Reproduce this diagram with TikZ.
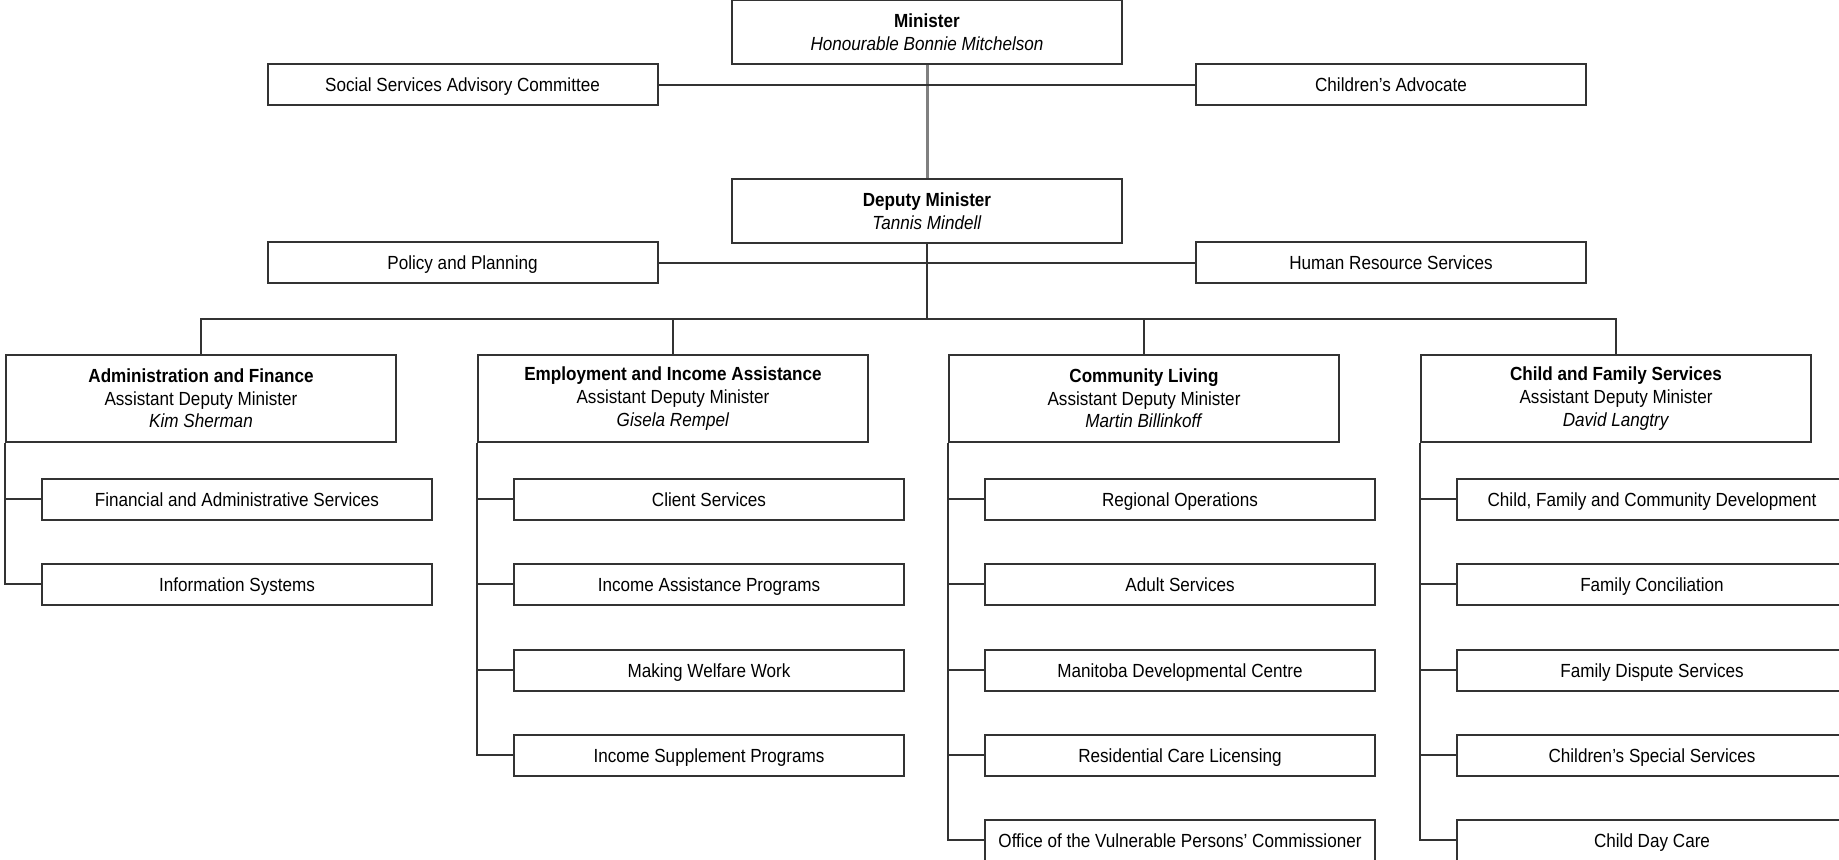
\documentclass[tikz,border=0pt]{standalone}
\usepackage{fontspec}
\setmainfont{Liberation Sans}[FakeStretch=0.9]

\tikzset{
	box/.style={draw=black!80, line width=1pt, fill=white, align=center, inner sep=0pt, text=black, font=\fontsize{9.5}{11.3}\selectfont},
	unitbox/.style={box, minimum width=195pt, minimum height=20.5pt, text height=8pt, text depth=1pt},
	headbox/.style={box, minimum width=195pt, minimum height=32pt},
	admbox/.style={box, minimum width=195pt, minimum height=43.5pt},
	link/.style={draw=black!80, line width=0.8pt},
}

\begin{document}
\begin{tikzpicture}[x=0.5pt, y=-0.5pt]
		\useasboundingbox (0,0) rectangle (1839,860);
		% minister level
		\node[headbox] (min) at (927,32.5) {\textbf{Minister}\\\textit{Honourable Bonnie Mitchelson}};
		\node[unitbox] (sac) at (462.5,85) {Social Services Advisory Committee};
		\node[unitbox] (ca) at (1391,85) {Children's Advocate};
		\node[headbox] (dep) at (927,211) {\textbf{Deputy Minister}\\\textit{Tannis Mindell}};
		\node[unitbox] (pp) at (462.5,263) {Policy and Planning};
		\node[unitbox] (hrs) at (1391,263) {Human Resource Services};
		\coordinate (bus) at (927,319);
		\draw[draw=gray, line width=1.5pt] (min) -- (dep);
		\draw[link] (sac) -- (ca);
		\draw[link] (pp) -- (hrs);
		\draw[link] (dep) -- (bus);
		% assistant deputy ministers
		\node[admbox] (af) at (201,398.5) {\textbf{Administration and Finance}\\Assistant Deputy Minister\\\textit{Kim Sherman}};
		\node[admbox] (eia) at (673,398.5) {\textbf{Employment and Income Assistance}\\Assistant Deputy Minister\\\textit{Gisela Rempel}};
		\node[admbox] (cl) at (1144,398.5) {\textbf{Community Living}\\Assistant Deputy Minister\\\textit{Martin Billinkoff}};
		\node[admbox] (cfs) at (1616,398.5) {\textbf{Child and Family Services}\\Assistant Deputy Minister\\\textit{David Langtry}};
		\draw[link] (af) |- (bus) -| (cfs);
		\draw[link] (eia) -- (eia |- bus);
		\draw[link] (cl) -- (cl |- bus);
		% administration and finance
		\node[unitbox] (af1) at (237,499) {Financial and Administrative Services};
		\node[unitbox] (af2) at (237,584) {Information Systems};
		\draw[link] (af.south west) |- (af1);
		\draw[link] (af.south west) |- (af2);
		% employment and income assistance
		\node[unitbox] (eia1) at (709,499) {Client Services};
		\node[unitbox] (eia2) at (709,584) {Income Assistance Programs};
		\node[unitbox] (eia3) at (709,670) {Making Welfare Work};
		\node[unitbox] (eia4) at (709,755) {Income Supplement Programs};
		\draw[link] (eia.south west) |- (eia1);
		\draw[link] (eia.south west) |- (eia2);
		\draw[link] (eia.south west) |- (eia3);
		\draw[link] (eia.south west) |- (eia4);
		% community living
		\node[unitbox] (cl1) at (1180,499) {Regional Operations};
		\node[unitbox] (cl2) at (1180,584) {Adult Services};
		\node[unitbox] (cl3) at (1180,670) {Manitoba Developmental Centre};
		\node[unitbox] (cl4) at (1180,755) {Residential Care Licensing};
		\node[unitbox] (cl5) at (1180,840) {Office of the Vulnerable Persons' Commissioner};
		\draw[link] (cl.south west) |- (cl1);
		\draw[link] (cl.south west) |- (cl2);
		\draw[link] (cl.south west) |- (cl3);
		\draw[link] (cl.south west) |- (cl4);
		\draw[link] (cl.south west) |- (cl5);
		% child and family services
		\node[unitbox] (cfs1) at (1652,499) {Child, Family and Community Development};
		\node[unitbox] (cfs2) at (1652,584) {Family Conciliation};
		\node[unitbox] (cfs3) at (1652,670) {Family Dispute Services};
		\node[unitbox] (cfs4) at (1652,755) {Children's Special Services};
		\node[unitbox] (cfs5) at (1652,840) {Child Day Care};
		\draw[link] (cfs.south west) |- (cfs1);
		\draw[link] (cfs.south west) |- (cfs2);
		\draw[link] (cfs.south west) |- (cfs3);
		\draw[link] (cfs.south west) |- (cfs4);
		\draw[link] (cfs.south west) |- (cfs5);
\end{tikzpicture}
\end{document}
